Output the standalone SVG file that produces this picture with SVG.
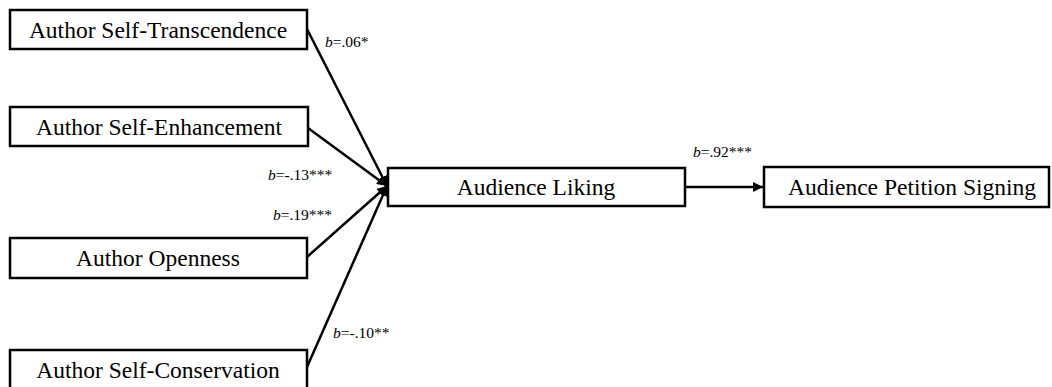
<svg xmlns="http://www.w3.org/2000/svg" width="1052" height="387" viewBox="0 0 1052 387">
<style>
.box{fill:#fff;stroke:#000;stroke-width:2.5}
.t{font-family:"Liberation Serif","Times New Roman",serif;font-size:23.5px;fill:#000;text-anchor:middle}
.l{font-family:"Liberation Serif","Times New Roman",serif;font-size:15.5px;fill:#000}
.c{stroke:#000;stroke-width:2.5;fill:none}
</style>
<defs>
<marker id="ah" viewBox="0 0 10 10" refX="10" refY="5" markerWidth="4" markerHeight="4" orient="auto" markerUnits="strokeWidth">
<path d="M0,0 L10,5 L0,10 z" fill="#000"/>
</marker>
</defs>
<rect width="1052" height="387" fill="#fff"/>
<g id="connectors">
<line class="c" x1="307" y1="29" x2="387" y2="186" marker-end="url(#ah)"/>
<line class="c" x1="308" y1="128" x2="387" y2="186" marker-end="url(#ah)"/>
<line class="c" x1="307" y1="257" x2="387" y2="186" marker-end="url(#ah)"/>
<line class="c" x1="307" y1="367" x2="387" y2="186" marker-end="url(#ah)"/>
<line class="c" x1="685" y1="187" x2="763" y2="187" marker-end="url(#ah)"/>
</g>
<g id="labels">
<text class="l" x="325" y="47"><tspan font-style="italic">b</tspan>=.06*</text>
<text class="l" x="268" y="180"><tspan font-style="italic">b</tspan>=-.13***</text>
<text class="l" x="273" y="220"><tspan font-style="italic">b</tspan>=.19***</text>
<text class="l" x="333" y="338"><tspan font-style="italic">b</tspan>=-.10**</text>
<text class="l" x="693" y="157"><tspan font-style="italic">b</tspan>=.92***</text>
</g>
<g id="n1"><rect class="box" x="10" y="10" width="297" height="39"/><text class="t" x="158" y="38">Author Self-Transcendence</text></g>
<g id="n2"><rect class="box" x="10" y="107" width="298" height="39"/><text class="t" x="159" y="135">Author Self-Enhancement</text></g>
<g id="n3"><rect class="box" x="10" y="238" width="297" height="40"/><text class="t" x="158" y="266">Author Openness</text></g>
<g id="n4"><rect class="box" x="10" y="350" width="297" height="40"/><text class="t" x="158" y="378">Author Self-Conservation</text></g>
<g id="n5"><rect class="box" x="388" y="168" width="297" height="38"/><text class="t" x="536" y="195">Audience Liking</text></g>
<g id="n6"><rect class="box" x="764" y="167" width="285" height="40"/><text class="t" x="912" y="195">Audience Petition Signing</text></g>
</svg>
